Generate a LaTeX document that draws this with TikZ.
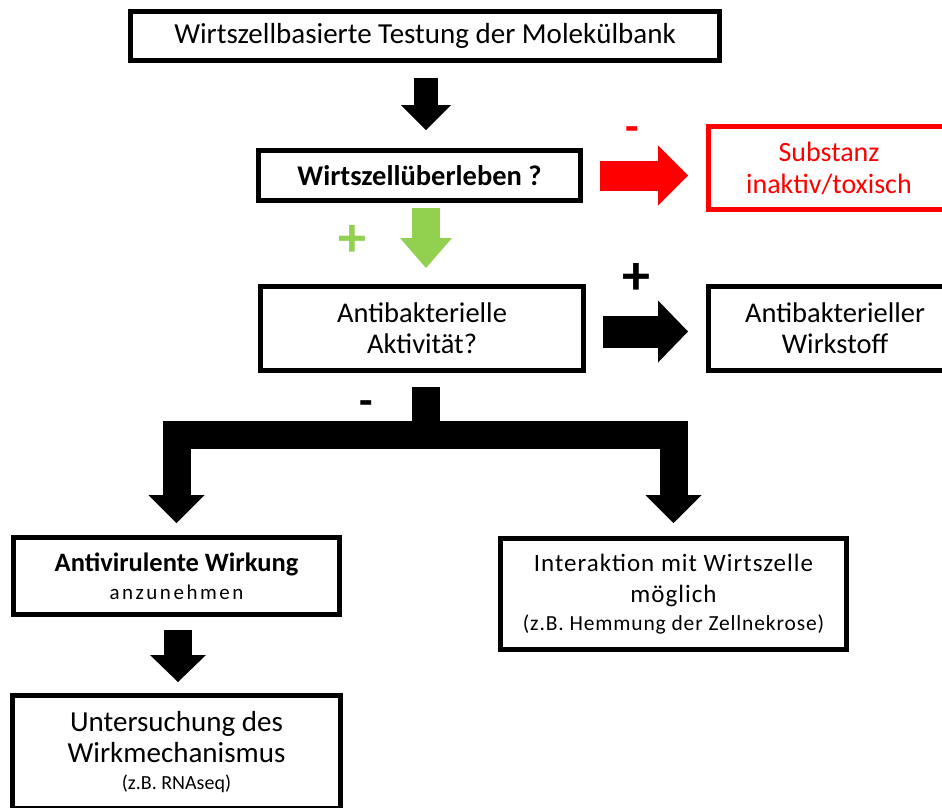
\documentclass[tikz,border=0pt]{standalone}
\usepackage{fontspec}
\setmainfont{Carlito}
\usetikzlibrary{arrows.meta,calc}
\definecolor{rd}{RGB}{255,0,0}
\definecolor{gr}{RGB}{146,208,80}
\begin{document}
\begin{tikzpicture}[x=1pt,y=-1pt,
  box/.style={draw, line width=5pt, rectangle, align=center, inner sep=0pt, outer sep=0pt,
    font=\fontsize{28.5}{31}\selectfont},
  blk/.style n args={3}{line width=#1, line join=miter,
    -{Triangle[length=#3,width=#2,line width=0pt]}},
  sign/.style={inner sep=0pt, font=\bfseries\fontsize{56}{56}\selectfont},
  minus/.style={inner sep=0pt, font=\bfseries\fontsize{44}{44}\selectfont},
]
\useasboundingbox (0,0) rectangle (942,807);
\clip (0,0) rectangle (942,807);

% boxes
\node[box, minimum width=589pt, minimum height=49pt, font=\fontsize{29}{31}\selectfont] (test) at (425,35.5)
  {Wirtszellbasierte Testung der Molekülbank};
\node[box, minimum width=322pt, minimum height=50pt,
  font=\bfseries\fontsize{28.5}{30}\selectfont] (surv) at (419.5,175.5)
  {Wirtszellüberleben ?};
\node[box, draw=rd, text=rd, minimum width=241pt, minimum height=83pt,
  font=\fontsize{28}{32}\selectfont] (inact) at (829,168)
  {Substanz\\inaktiv/toxisch};
\node[box, minimum width=323pt, minimum height=84pt] (antib) at (422,328.5)
  {Antibakterielle\\Aktivität?};
\node[box, minimum width=253pt, minimum height=84pt] (wirk) at (835,328.5)
  {Antibakterieller\\Wirkstoff};
\node[box, minimum width=326pt, minimum height=77pt] (antiv) at (176.5,576)
  {{\bfseries\fontsize{26.5}{30}\selectfont Antivirulente Wirkung}\\[-3pt]
   {\fontsize{21}{24}\selectfont\addfontfeature{LetterSpace=12}anzunehmen}};
\node[box, minimum width=346pt, minimum height=111pt] (inter) at (673.5,594)
  {{\fontsize{25}{32}\selectfont\addfontfeature{LetterSpace=4}Interaktion mit Wirtszelle}\\
   {\fontsize{25}{32}\selectfont\addfontfeature{LetterSpace=4}möglich}\\[-3pt]
   {\fontsize{21.5}{24}\selectfont\addfontfeature{LetterSpace=4}(z.B. Hemmung der Zellnekrose)}};
\node[box, minimum width=328pt, minimum height=113pt] (unters) at (176.5,752)
  {{\fontsize{29}{31}\selectfont Untersuchung des}\\{\fontsize{29}{31}\selectfont Wirkmechanismus}\\[-4pt]
   {\fontsize{20}{24}\selectfont (z.B. RNAseq)}};

% signs
\node[sign, text=gr] (pg) at (352,241) {+};
\node[sign] (pb) at (636,279) {+};
\node[minus, text=rd] (mr) at (632,134) {-};
\node[minus] (mb) at (366,408) {-};

% helper coordinates
\coordinate (ax) at (426,0);
\coordinate (sx) at (425.5,0);
\coordinate (lx) at (178,0);

% arrows
\draw[blk={24pt}{50pt}{25pt}, shorten <=18pt, shorten >=20.5pt]
  (test.south -| ax) -- (surv.north -| ax);
\draw[blk={30pt}{60pt}{30pt}, rd, shorten <=19.5pt, shorten >=20.5pt]
  (surv.east) -- (inact.west |- surv.east);
\draw[blk={28pt}{52pt}{30pt}, gr, shorten <=7.5pt, shorten >=18.5pt]
  (surv.south -| ax) -- (antib.north -| ax);
\draw[blk={32pt}{62pt}{30pt}, shorten <=19.5pt, shorten >=20.5pt]
  ($(antib.east)+(0,3)$) -- ($(wirk.west)+(0,3)$);
\draw[blk={28pt}{56pt}{28pt}, shorten <=16.5pt, shorten >=14.5pt]
  (antib.south -| sx) |- ($(antiv.north)+(0,-103)$) -- (antiv.north);
\draw[blk={28pt}{56pt}{28pt}, shorten <=16.5pt, shorten >=15.5pt]
  (antib.south -| sx) |- ($(inter.north)+(0,-104)$) -- (inter.north);
\draw[blk={28pt}{56pt}{27pt}, shorten <=15.5pt, shorten >=13.5pt]
  (antiv.south -| lx) -- (unters.north -| lx);
\end{tikzpicture}
\end{document}
